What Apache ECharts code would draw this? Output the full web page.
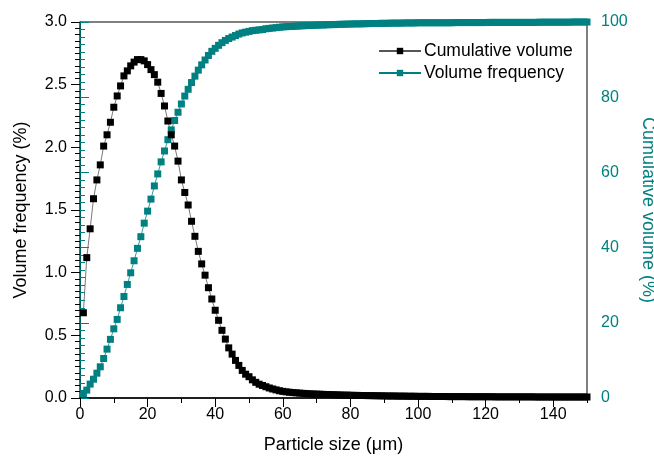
<!DOCTYPE html>
<html>
<head>
<meta charset="utf-8">
<script src="https://cdn.jsdelivr.net/npm/echarts@6/dist/echarts.min.js"></script>
<style>
  html, body { margin: 0; padding: 0; background: #fff; }
  #chart { width: 654px; height: 461px; }
</style>
</head>
<body>
<div id="chart"></div>
<script>
// particle size grid, 1 µm steps
var sizes = [];
for (var i = 1; i <= 150; i++) sizes.push(i);

// black squares, left axis (%)
var freqValues = [
  0.68, 1.12, 1.35, 1.59, 1.74, 1.86, 2.01, 2.10, 2.20, 2.32,
  2.41, 2.49, 2.57, 2.61, 2.65, 2.68, 2.70, 2.70, 2.69, 2.66,
  2.62, 2.58, 2.52, 2.43, 2.33, 2.21, 2.10, 2.01, 1.89, 1.74,
  1.64, 1.54, 1.41, 1.29, 1.17, 1.07, 0.98, 0.88, 0.79, 0.70,
  0.62, 0.54, 0.47, 0.40, 0.35, 0.30, 0.26, 0.22, 0.19, 0.17,
  0.145, 0.125, 0.11, 0.10, 0.09, 0.08, 0.072, 0.065, 0.058, 0.053,
  0.049, 0.046, 0.043, 0.041, 0.039, 0.037, 0.035, 0.033, 0.032, 0.031,
  0.030, 0.029, 0.028, 0.027, 0.026, 0.025, 0.024, 0.023, 0.023, 0.022,
  0.021, 0.021, 0.020, 0.020, 0.019, 0.019, 0.018, 0.018, 0.017, 0.017,
  0.016, 0.016, 0.016, 0.015, 0.015, 0.015, 0.014, 0.014, 0.014, 0.013,
  0.013, 0.013, 0.013, 0.012, 0.012, 0.012, 0.012, 0.012, 0.011, 0.011,
  0.011, 0.011, 0.011, 0.011, 0.010, 0.010, 0.010, 0.010, 0.010, 0.010,
  0.010, 0.010, 0.009, 0.009, 0.009, 0.009, 0.009, 0.009, 0.009, 0.009,
  0.009, 0.009, 0.009, 0.009, 0.008, 0.008, 0.008, 0.008, 0.008, 0.008,
  0.008, 0.008, 0.008, 0.008, 0.008, 0.008, 0.008, 0.008, 0.008, 0.008
];

// teal squares, right axis (%)
var cumValues = [
  1.1, 2.1, 3.7, 5.0, 6.6, 8.3, 10.5, 13.0, 15.6, 18.4,
  20.9, 24.0, 27.0, 30.2, 33.3, 36.5, 39.8, 42.9, 46.5, 49.7,
  52.9, 56.4, 59.6, 62.8, 65.7, 68.7, 71.3, 73.8, 76.0, 78.2,
  80.3, 82.1, 83.9, 85.6, 87.2, 88.6, 89.9, 91.1, 92.2, 93.0,
  93.8, 94.5, 95.1, 95.6, 96.0, 96.4, 96.8, 97.1, 97.3, 97.5,
  97.7, 97.8, 97.9, 98.0, 98.2, 98.3, 98.4, 98.5, 98.6, 98.7,
  98.75, 98.8, 98.85, 98.9, 98.95, 99.0, 99.05, 99.1, 99.1, 99.15,
  99.2, 99.2, 99.25, 99.3, 99.3, 99.35, 99.4, 99.4, 99.45, 99.45,
  99.5, 99.5, 99.5, 99.55, 99.55, 99.6, 99.6, 99.6, 99.65, 99.65,
  99.65, 99.7, 99.7, 99.7, 99.7, 99.75, 99.75, 99.75, 99.75, 99.8,
  99.8, 99.8, 99.8, 99.8, 99.8, 99.8, 99.8, 99.8, 99.8, 99.8,
  99.85, 99.85, 99.85, 99.85, 99.85, 99.85, 99.85, 99.85, 99.85, 99.85,
  99.9, 99.9, 99.9, 99.9, 99.9, 99.9, 99.9, 99.9, 99.9, 99.9,
  99.9, 99.9, 99.9, 99.9, 99.9, 99.95, 99.95, 99.95, 99.95, 99.95,
  99.95, 99.95, 99.95, 99.95, 99.95, 100, 100, 100, 100, 100
];

var xMajorTicks = [0, 20, 40, 60, 80, 100, 120, 140];

var font = "'Liberation Sans', Arial, sans-serif";
var teal = "#008080";

function pairs(ys) {
  return sizes.map(function (x, i) { return [x, ys[i]]; });
}

var myChart = echarts.init(document.getElementById("chart"));
var option = {
  animation: false,
  textStyle: { fontFamily: font },
  grid: {
    left: 80, right: 67, top: 22, bottom: 63,
    outerBoundsMode: "none",
    containLabel: false,
    show: true, borderColor: "#000", borderWidth: 1,
    backgroundColor: "transparent"
  },
  legend: {
    orient: "vertical",
    left: 373, top: 37,
    itemWidth: 42, itemHeight: 8, itemGap: 4,
    data: ["Cumulative volume", "Volume frequency"],
    textStyle: { fontSize: 17.5, color: "#000", fontFamily: font, padding: [0, 0, 0, -2] }
  },
  xAxis: [
    {
      type: "value",
      min: 0, max: 150, interval: 10,
      name: "Particle size (\u03bcm)",
      nameLocation: "middle", nameGap: 38,
      nameTextStyle: { fontSize: 18, color: "#000", fontFamily: font },
      axisLine: { show: true, lineStyle: { color: "#000", width: 1.5 } },
      axisTick: { show: true, length: 5, lineStyle: { color: "#000" } },
      axisLabel: {
        fontSize: 16, color: "#000", margin: 9, fontFamily: font,
        formatter: function (v) { return (v % 20 === 0 && v < 150) ? String(v) : ""; }
      },
      splitLine: { show: false }
    },
    {
      // major tick overlay, shifted down onto the bottom edge
      type: "value",
      position: "top",
      offset: -376,
      min: 0, max: 150,
      axisLine: { show: false },
      axisTick: { show: true, inside: true, length: 9, customValues: xMajorTicks, lineStyle: { color: "#000" } },
      axisLabel: { show: false },
      splitLine: { show: false }
    }
  ],
  yAxis: [
    {
      type: "value",
      min: 0, max: 3, interval: 0.5,
      name: "Volume frequency (%)",
      nameLocation: "middle", nameGap: 50, nameRotate: 90,
      nameTextStyle: { fontSize: 18, color: "#000", fontFamily: font },
      axisLine: { show: true, lineStyle: { color: "#000", width: 1 } },
      axisTick: { show: true, length: 9, lineStyle: { color: "#000" } },
      minorTick: { show: true, splitNumber: 10, length: 5, lineStyle: { color: "#000" } },
      axisLabel: {
        fontSize: 16, color: "#000", margin: 13, fontFamily: font,
        formatter: function (v) { return v.toFixed(1); }
      },
      splitLine: { show: false }
    },
    {
      type: "value",
      position: "right",
      min: 0, max: 100, interval: 20,
      name: "Cumulative volume (%)",
      nameLocation: "middle", nameGap: 41, nameRotate: -90,
      nameTextStyle: { fontSize: 18, color: teal, fontFamily: font },
      axisLine: { show: true, lineStyle: { color: teal, width: 1.5 } },
      axisTick: { show: true, length: 9, lineStyle: { color: teal } },
      minorTick: { show: true, splitNumber: 10, length: 5, lineStyle: { color: teal } },
      axisLabel: { fontSize: 16, color: teal, margin: 14, fontFamily: font },
      splitLine: { show: false }
    }
  ],
  series: [
    {
      name: "Volume frequency",
      type: "line",
      yAxisIndex: 1,
      data: pairs(cumValues),
      symbol: "rect", symbolSize: 7,
      itemStyle: { color: teal },
      lineStyle: { color: teal, width: 0.8 },
      clip: false
    },
    {
      name: "Cumulative volume",
      type: "line",
      yAxisIndex: 0,
      data: pairs(freqValues),
      symbol: "rect", symbolSize: 7,
      itemStyle: { color: "#000" },
      lineStyle: { color: "#555", width: 0.8 },
      clip: false
    }
  ]
};
myChart.setOption(option);
</script>
</body>
</html>
